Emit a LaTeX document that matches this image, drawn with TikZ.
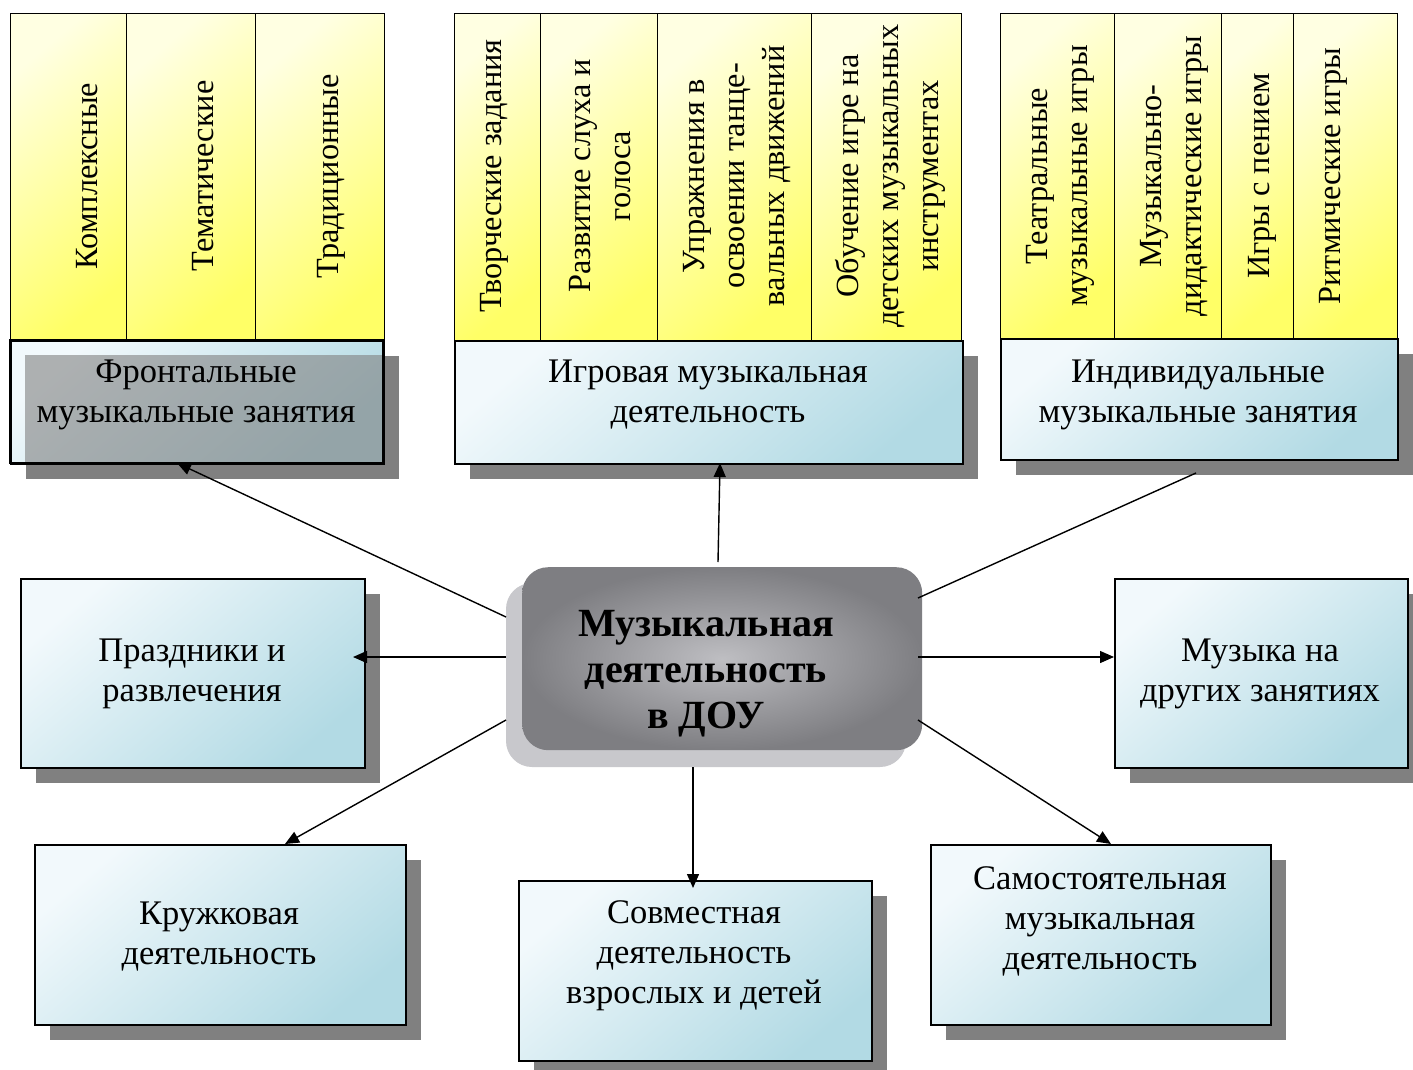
\documentclass[tikz,border=0pt]{standalone}
\usepackage{fontspec}
\setmainfont{Liberation Serif}
\usetikzlibrary{arrows.meta,calc,shadows}
\definecolor{shd}{HTML}{808080}
\definecolor{cshd}{HTML}{C8C8CC}
\definecolor{ylt}{HTML}{FFFFE2}
\definecolor{ydk}{HTML}{FFFF66}
\definecolor{blt}{HTML}{F2F9FC}
\definecolor{bdk}{HTML}{B2DAE4}
\definecolor{cin}{HTML}{BEBEC2}
\definecolor{cout}{HTML}{7E7E82}
\tikzset{
  ycol/.style={draw=black, line width=1.3pt, top color=ylt, bottom color=ydk, shading angle=40, inner sep=0pt, anchor=north west},
  bbox/.style={draw=black, line width=2pt, top color=blt, bottom color=bdk, shading angle=40, inner sep=0pt, anchor=north west,
    drop shadow={shadow xshift=15pt, shadow yshift=-15pt, fill=shd, opacity=1}},
  ctext/.style={rotate=90, align=center, font=\fontsize{32.3}{40}\selectfont, inner sep=0pt},
  btext/.style={align=center, font=\fontsize{34.5}{40}\selectfont, inner sep=0pt},
  conn/.style={line width=1.4pt, draw=black},
  arr/.style={conn, -{Triangle[length=14pt,width=12pt]}}
}
\begin{document}
\begin{tikzpicture}[x=1pt,y=-1pt]
\useasboundingbox (0,0) rectangle (1413,1070);
\fill[white] (0,0) rectangle (1413,1070);

% ---------- left group ----------
\node[ycol, minimum width=116, minimum height=327] (l1) at (10,13) {};
\node[ycol, minimum width=129, minimum height=327] (l2) at (126,13) {};
\node[ycol, minimum width=129, minimum height=327] (l3) at (255,13) {};
\node[ctext] (l1t) at (87,176) {Комплексные};
\node[ctext] (l2t) at (203,176) {Тематические};
\node[ctext] (l3t) at (331,176) {Традиционные};
\node[bbox, minimum width=373, minimum height=123] (front) at (10,340) {};
\draw[line width=2pt] (10,340) rectangle (383,463);
\fill[shd, opacity=0.6] (25,355) rectangle (382,462);
\draw[line width=2pt] (383,355) -- (383,463) -- (25,463);
\node[btext] (frontt) at (196,395) {Фронтальные\\музыкальные занятия};

% ---------- middle group ----------
\node[ycol, minimum width=86, minimum height=327] (m1) at (454,13) {};
\node[ycol, minimum width=117, minimum height=327] (m2) at (540,13) {};
\node[ycol, minimum width=154, minimum height=327] (m3) at (657,13) {};
\node[ycol, minimum width=150, minimum height=327] (m4) at (811,13) {};
\node[ctext] (m1t) at (494,176) {Творческие задания};
\node[ctext] (m2t) at (600,176) {Развитие слуха и\\голоса};
\node[ctext] (m3t) at (737,176) {Упражнения в\\освоении танце-\\вальных движений};
\node[ctext] (m4t) at (890,176) {Обучение игре на\\детских музыкальных\\инструментах};
\node[bbox, minimum width=508, minimum height=123] (game) at (454,340) {};
\node[btext] (gamet) at (708,395) {Игровая музыкальная\\деятельность};

% ---------- right group ----------
\node[ycol, minimum width=114, minimum height=325] (r1) at (1000,13) {};
\node[ycol, minimum width=107, minimum height=325] (r2) at (1114,13) {};
\node[ycol, minimum width=72, minimum height=325] (r3) at (1221,13) {};
\node[ycol, minimum width=104, minimum height=325] (r4) at (1293,13) {};
\node[ctext] (r1t) at (1060,176) {Театральные\\музыкальные игры};
\node[ctext] (r2t) at (1174,176) {Музыкально-\\дидактические игры};
\node[ctext] (r3t) at (1262,176) {Игры с пением};
\node[ctext] (r4t) at (1333,176) {Ритмические игры};
\node[bbox, minimum width=397, minimum height=121] (indiv) at (1000,338) {};
\node[btext] (indivt) at (1198,395) {Индивидуальные\\музыкальные занятия};

% ---------- side and bottom boxes ----------
\node[bbox, minimum width=344, minimum height=189] (holid) at (20,578) {};
\node[btext] (holidt) at (192,674) {Праздники и\\развлечения};
\node[bbox, minimum width=293, minimum height=189] (other) at (1114,578) {};
\node[btext] (othert) at (1260,674) {Музыка на\\других занятиях};
\node[bbox, minimum width=371, minimum height=180] (circle) at (34,844) {};
\node[btext] (circlet) at (219,937) {Кружковая\\деятельность};
\node[bbox, minimum width=353, minimum height=180] (joint) at (518,880) {};
\node[btext] (jointt) at (694,956) {Совместная\\деятельность\\взрослых и детей};
\node[bbox, minimum width=340, minimum height=180] (indep) at (930,844) {};
\node[btext] (indept) at (1100,921) {Самостоятельная\\музыкальная\\деятельность};

% ---------- center ----------
\fill[cshd, rounded corners=26pt] (506,583) rectangle (906,767);
\node[inner color=cin, outer color=cout, rounded corners=26pt, minimum width=400, minimum height=183, inner sep=0pt, anchor=north west] (center) at (522,567) {};
\node[btext, font=\fontsize{40}{46}\selectfont\bfseries] (centert) at (706,674) {Музыкальная\\деятельность\\в ДОУ};

% ---------- connectors ----------
\coordinate (s1) at (506,617);
\coordinate (e1) at (177,463);
\coordinate (s2) at (718,562);
\coordinate (e2) at (720,463);
\coordinate (s3) at (918,598);
\coordinate (e3) at (1196,473);
\coordinate (s4) at (506,657);
\coordinate (e4) at (353,657);
\coordinate (s5) at (918,657);
\coordinate (e5) at (1114,657);
\coordinate (s6) at (506,720);
\coordinate (e6) at (285,844);
\coordinate (s7) at (693,767);
\coordinate (e7) at (693,888);
\coordinate (s8) at (918,720);
\coordinate (e8) at (1111,844);
\draw[arr] (s1) -- (e1);
\draw[arr] (s2) -- (e2);
\draw[conn] (s3) -- (e3);
\draw[arr] (s4) -- (e4);
\draw[arr] (s5) -- (e5);
\draw[arr] (s6) -- (e6);
\draw[arr] (s7) -- (e7);
\draw[arr] (s8) -- (e8);
\end{tikzpicture}
\end{document}
